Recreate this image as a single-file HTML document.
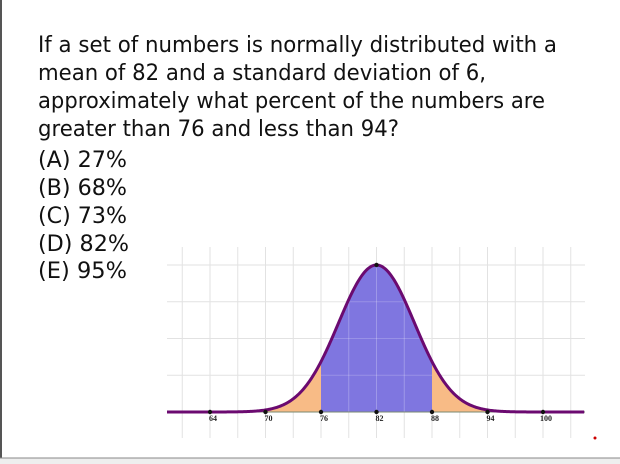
<!DOCTYPE html>
<html><head><meta charset="utf-8"><style>
html,body{margin:0;padding:0;background:#fff;}
svg{display:block;}
text.q{font-family:"DejaVu Sans","Liberation Sans",sans-serif;font-size:22px;fill:#111;}
text.t{font-family:"Liberation Serif",serif;font-size:8px;font-weight:bold;fill:#222;}
</style></head><body>
<svg id="c" width="620" height="464" viewBox="0 0 620 464" xmlns="http://www.w3.org/2000/svg">
<rect x="0" y="0" width="620" height="464" fill="#fff"/>
<rect x="0" y="0" width="2" height="464" fill="#555"/>
<rect x="0" y="458" width="620" height="6" fill="#eee"/>
<line x1="0" y1="458" x2="620" y2="458" stroke="#888"/>
<text class="q" x="38" y="52" textLength="519" lengthAdjust="spacingAndGlyphs">If a set of numbers is normally distributed with a</text>
<text class="q" x="38" y="80" textLength="448" lengthAdjust="spacingAndGlyphs">mean of 82 and a standard deviation of 6,</text>
<text class="q" x="38" y="108" textLength="507" lengthAdjust="spacingAndGlyphs">approximately what percent of the numbers are</text>
<text class="q" x="38" y="136" textLength="361" lengthAdjust="spacingAndGlyphs">greater than 76 and less than 94?</text>
<text class="q" x="38" y="167" textLength="89" lengthAdjust="spacingAndGlyphs">(A) 27%</text>
<text class="q" x="38" y="195" textLength="89" lengthAdjust="spacingAndGlyphs">(B) 68%</text>
<text class="q" x="38" y="223" textLength="89" lengthAdjust="spacingAndGlyphs">(C) 73%</text>
<text class="q" x="38" y="251" textLength="91" lengthAdjust="spacingAndGlyphs">(D) 82%</text>
<text class="q" x="38" y="278" textLength="89" lengthAdjust="spacingAndGlyphs">(E) 95%</text>
<g id="chart"></g>
<circle cx="595" cy="438" r="1.5" fill="#c00"/>
</svg>
<script>
const tickValues = [64, 70, 76, 82, 88, 94, 100];
const tickLabels = ["64", "70", "76", "82", "88", "94", "100"];
const meanValue = [82];
const sdValue = [6];
const displaySdValue = [4.1];
const innerRange = [76, 88];
const outerRange = [70, 94];
const xDomain = [59.35, 104.54];

const NS = "http://www.w3.org/2000/svg";
const g = document.getElementById("chart");
const mu = meanValue[0], sd = displaySdValue[0];
const x0 = 167, x1 = 585, yBase = 412, peakH = 147;
function xs(v){ return x0 + (v - xDomain[0]) / (xDomain[1] - xDomain[0]) * (x1 - x0); }
function pdf(v){ return Math.exp(-0.5 * Math.pow((v - mu) / sd, 2)); }
function ys(v){ return yBase - pdf(v) * peakH; }
function mk(tag, attrs){ const e = document.createElementNS(NS, tag); for (const k in attrs) e.setAttribute(k, attrs[k]); g.appendChild(e); return e; }

for (let v = 61; v <= 103; v += 3) {
  const ln = mk("line", {x1: xs(v), x2: xs(v), y1: 247, y2: 438, stroke: "#e2e2e2", "stroke-width": 1});
  
  
}
for (let i = 0; i < 4; i++) {
  const y = yBase - peakH * (i + 1) / 4;
  const ln = mk("line", {x1: x0, x2: x1, y1: y, y2: y, stroke: "#e2e2e2", "stroke-width": 1});
  
  
}
function area(a, b, fill, name){
  let d = "M" + xs(a) + "," + yBase;
  for (let v = a; v <= b + 1e-9; v += 0.1) d += " L" + xs(v) + "," + ys(v);
  d += " L" + xs(b) + "," + ys(b) + " L" + xs(b) + "," + yBase + " Z";
  const p = mk("path", {d: d, fill: fill});
  
  
}
area(outerRange[0], innerRange[0], "#f8bb86", "tail-area-left");
area(innerRange[1], outerRange[1], "#f8bb86", "tail-area-right");
area(innerRange[0], innerRange[1], "#7f76e0", "center-area");
for (let v = 79; v <= 85; v += 3) {
  const ln = mk("line", {x1: xs(v), x2: xs(v), y1: ys(v), y2: yBase, stroke: "rgba(255,255,255,0.25)", "stroke-width": 1});
  
  
}
for (let i = 0; i < 3; i++) {
  const y = yBase - peakH * (i + 1) / 4;
  const ln = mk("line", {x1: xs(innerRange[0]), x2: xs(innerRange[1]), y1: y, y2: y, stroke: "rgba(255,255,255,0.2)", "stroke-width": 1});
  
  
}
const axis = mk("line", {x1: x0, x2: x1, y1: yBase, y2: yBase, stroke: "#7a8a70", "stroke-width": 1});


let d = "";
for (let v = xDomain[0]; v <= xDomain[1] + 1e-9; v += 0.1) d += (d ? " L" : "M") + xs(v) + "," + ys(v);
const curve = mk("path", {d: d, fill: "none", stroke: "#6b0a70", "stroke-width": 3});


tickValues.forEach((v, i) => {
  const c = mk("circle", {cx: xs(v), cy: yBase, r: 2.2, fill: "#111"});
  
  
  const t = mk("text", {x: xs(v) + 3, y: yBase + 9, "class": "t", "text-anchor": "middle"});
  t.textContent = tickLabels[i];
  
  
});
const pk = mk("circle", {cx: xs(mu), cy: ys(mu), r: 2.2, fill: "#111"});


</script>
</body></html>
